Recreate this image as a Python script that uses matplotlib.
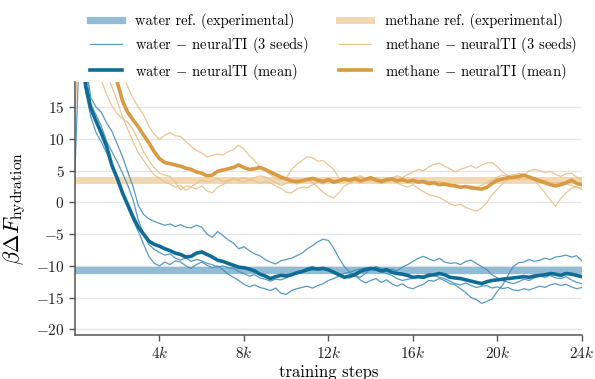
import numpy as np
import matplotlib
matplotlib.use("Agg")
import matplotlib.pyplot as plt
from matplotlib.ticker import FuncFormatter

plt.rcParams["font.family"] = ["cmr10", "DejaVu Serif"]
plt.rcParams["mathtext.fontset"] = "cm"
plt.rcParams["axes.formatter.use_mathtext"] = True
plt.rcParams["axes.unicode_minus"] = True

# training step grid (every 250 steps)
steps = np.arange(0, 24001, 250)

water_ref = -10.65
methane_ref = 3.47

water_seed1 = [45, 32, 22, 16.5, 15.0, 14.2, 12.5, 11.2, 9.2, 7.2, 4.8, 2.5, -0.5, -1.9, -2.6, -3.0,
               -3.3, -3.6, -3.4, -3.8, -3.5, -3.9, -4.0, -3.6, -3.9, -5.0, -5.5, -4.6, -5.2, -5.9, -6.4, -7.3,
               -7.0, -7.6, -8.1, -8.4, -9.0, -9.4, -9.7, -9.2, -9.0, -8.8, -8.4, -8.0, -7.3, -6.8, -6.2, -5.8,
               -6.0, -7.2, -8.8, -10.1, -11.0, -11.4, -12.2, -12.7, -12.3, -12.0, -12.6, -12.2, -12.8, -13.2, -12.8, -13.4,
               -13.6, -13.2, -12.9, -12.3, -12.4, -12.0, -12.3, -12.8, -13.0, -13.6, -14.2, -15.0, -15.3, -15.9, -15.6, -15.2,
               -14.0, -13.0, -11.5, -10.1, -9.5, -9.4, -9.0, -9.3, -9.1, -8.8, -9.0, -8.6, -8.5, -8.3, -8.6, -8.4,
               -9.2]
water_seed2 = [5, 28, 21, 15.5, 13.8, 12.0, 9.6, 8.0, 6.4, 4.6, 2.7, 0.4, -2.8, -5.0, -6.6, -7.4,
               -7.9, -8.3, -8.1, -8.8, -9.1, -8.7, -9.3, -9.0, -9.2, -9.6, -9.8, -10.2, -10.0, -10.3, -10.4, -10.9,
               -11.2, -11.6, -11.4, -11.9, -12.1, -12.4, -12.1, -12.2, -11.9, -11.5, -11.2, -10.8, -10.3, -10.1, -10.5, -10.4,
               -10.7, -11.1, -11.5, -11.7, -11.9, -11.6, -11.8, -11.2, -10.5, -10.1, -10.4, -10.7, -10.5, -10.8, -10.2, -9.8,
               -9.3, -8.8, -8.5, -8.9, -9.2, -8.8, -9.4, -9.6, -9.5, -9.8, -9.3, -9.1, -9.6, -10.1, -10.6, -11.4,
               -11.9, -12.3, -12.6, -12.8, -12.5, -12.1, -12.3, -11.9, -11.6, -11.8, -11.5, -11.9, -12.0, -11.7, -12.2, -12.6,
               -12.8]
water_seed3 = [40, 24, 17.5, 13.5, 11.0, 9.5, 7.8, 5.8, 3.6, 1.6, -0.8, -2.8, -4.6, -6.6, -8.5, -9.6,
               -10.0, -9.4, -9.8, -9.2, -9.4, -10.0, -10.4, -9.8, -9.4, -9.9, -10.3, -10.0, -10.6, -11.3, -11.8, -12.3,
               -12.9, -13.3, -13.0, -13.4, -13.6, -13.9, -13.5, -14.3, -14.5, -13.9, -13.6, -13.4, -13.2, -13.5, -13.1, -12.8,
               -12.3, -12.0, -11.6, -11.2, -11.0, -10.7, -10.5, -10.3, -10.6, -10.4, -10.9, -11.2, -11.5, -12.0, -12.3, -12.1,
               -12.0, -11.8, -11.6, -11.2, -11.5, -11.8, -12.0, -12.4, -12.8, -13.0, -12.7, -13.1, -13.4, -13.2, -13.1, -13.5,
               -13.3, -13.6, -13.4, -13.8, -13.9, -13.6, -13.8, -13.5, -13.2, -13.4, -13.0, -12.8, -13.1, -12.9, -13.3, -13.6,
               -13.4]
water_mean = [30, 26, 18.5, 14.8, 12.8, 10.9, 8.8, 5.8, 3.8, 1.5, -0.4, -2.3, -3.9, -5.0, -6.1, -6.6,
              -6.9, -7.3, -7.6, -8.0, -8.2, -8.6, -8.5, -8.0, -7.8, -8.2, -8.6, -9.1, -9.3, -9.6, -9.9, -10.2,
              -10.3, -10.5, -10.8, -11.3, -11.6, -12.0, -11.7, -11.5, -11.6, -11.4, -11.1, -10.9, -10.6, -10.4, -10.5, -10.4,
              -10.6, -11.0, -11.4, -11.8, -11.6, -11.4, -10.9, -10.6, -10.4, -10.5, -10.8, -10.6, -11.0, -11.2, -11.3, -11.5,
              -11.8, -11.7, -11.8, -11.5, -11.4, -11.2, -11.4, -11.8, -11.9, -12.0, -12.2, -12.4, -12.6, -12.8, -12.5, -12.3,
              -12.2, -12.1, -12.0, -11.9, -11.8, -11.7, -11.8, -11.6, -11.5, -11.4, -11.2, -11.3, -11.5, -11.2, -11.3, -11.5,
              -11.7]

methane_seed1 = [60, 52, 46, 41, 37, 33, 29, 26, 23, 20.5, 18.2, 16.4, 15.0, 13.8, 12.0, 10.8,
                 9.9, 10.6, 11.0, 10.5, 10.4, 9.6, 8.8, 8.2, 7.8, 7.2, 7.4, 7.6, 7.5, 8.0, 8.3, 9.0,
                 8.4, 7.4, 6.6, 5.6, 5.0, 4.4, 3.9, 3.6, 3.8, 5.2, 6.0, 6.6, 7.2, 7.0, 6.5, 6.6,
                 5.9, 5.2, 3.8, 3.3, 3.6, 3.9, 4.2, 3.8, 3.4, 3.9, 3.6, 3.2, 3.5, 3.1, 2.7, 2.4,
                 2.8, 2.2, 1.7, 1.2, 1.0, 0.8, 0.3, -0.2, -0.5, -0.3, -0.8, -1.1, -1.4, -0.9, 0.0, 1.2,
                 2.1, 3.0, 3.6, 4.3, 4.6, 4.4, 4.1, 3.5, 2.6, 1.5, 0.4, -0.6, 0.6, 1.5, 2.2, 2.5,
                 2.0]
methane_seed2 = [12.6, 35, 29, 25, 21, 19.2, 17.0, 15.2, 14.0, 13.2, 12.6, 11.5, 9.8, 8.0, 6.6, 5.5,
                 4.6, 4.3, 4.1, 3.2, 2.0, 2.6, 2.5, 3.0, 3.6, 3.2, 3.4, 3.8, 3.3, 3.5, 3.8, 3.4,
                 3.2, 3.6, 3.9, 4.2, 4.0, 3.6, 3.1, 2.7, 3.0, 3.3, 2.9, 3.2, 3.6, 3.1, 2.4, 1.6,
                 1.0, 0.7, 1.5, 2.6, 3.0, 3.4, 3.1, 3.5, 3.9, 3.4, 3.0, 3.3, 3.8, 4.2, 3.9, 4.4,
                 4.8, 5.2, 5.0, 5.6, 6.0, 6.2, 5.7, 5.3, 4.8, 5.2, 5.5, 5.8, 5.4, 5.9, 6.2, 6.3,
                 5.6, 4.8, 4.2, 3.9, 3.6, 4.2, 5.0, 5.2, 5.0, 4.7, 4.9, 4.4, 4.1, 4.5, 4.6, 4.0,
                 3.6]
methane_seed3 = [50, 42, 35, 30, 26, 23, 20.5, 18.2, 16.0, 13.5, 11.5, 9.6, 7.8, 6.6, 5.4, 4.3,
                 3.8, 3.2, 2.9, 2.4, 2.7, 1.9, 2.4, 2.1, 2.6, 1.8, 1.5, 2.4, 2.8, 3.3, 3.7, 3.6,
                 3.9, 3.6, 3.4, 3.0, 3.3, 3.1, 2.6, 2.2, 1.6, 1.5, 2.1, 2.4, 2.3, 2.8, 3.2, 2.9,
                 3.4, 3.0, 3.5, 3.9, 3.3, 3.6, 4.0, 3.7, 3.3, 3.8, 3.4, 3.6, 3.9, 3.5, 3.8, 3.3,
                 3.0, 3.4, 3.1, 2.7, 3.0, 3.3, 3.0, 2.6, 2.8, 2.5, 2.3, 2.6, 2.4, 2.7, 3.1, 3.5,
                 4.0, 4.3, 4.1, 4.4, 4.0, 3.6, 3.8, 3.5, 3.6, 3.4, 3.2, 3.0, 3.2, 2.9, 2.7, 2.4,
                 2.2]
methane_mean = [45, 40, 36, 32, 28, 25, 22.5, 20.5, 19.0, 16.0, 14.2, 13.0, 11.9, 10.6, 9.4, 8.0,
                6.9, 6.3, 6.1, 5.9, 5.7, 5.4, 5.2, 4.8, 4.6, 4.2, 4.3, 4.9, 5.1, 5.3, 5.5, 5.9,
                5.5, 5.2, 5.3, 5.5, 5.2, 4.8, 4.4, 4.0, 3.7, 3.4, 3.3, 3.4, 3.6, 3.8, 3.5, 3.3,
                3.6, 3.2, 3.4, 3.7, 3.5, 3.8, 3.4, 3.6, 3.9, 3.5, 3.3, 3.6, 3.7, 3.4, 3.6, 3.3,
                3.5, 3.2, 3.3, 3.0, 3.1, 2.8, 2.9, 2.7, 2.6, 2.4, 2.5, 2.3, 2.2, 2.1, 2.4, 3.0,
                3.5, 3.7, 3.9, 3.9, 4.1, 4.3, 4.0, 3.7, 3.4, 3.1, 2.8, 2.6, 2.8, 3.1, 3.5, 3.0,
                2.8]

W_DARK, W_SEED, W_REF = "#106c96", "#4590ba", "#7fb1cd"
M_DARK, M_SEED, M_REF = "#d89a42", "#e8c08a", "#efd2a6"

fig = plt.figure(figsize=(5.95, 3.79), dpi=100)
ax = fig.add_axes([0.126, 0.116, 0.852, 0.668])

h_wref = ax.axhline(water_ref, color=W_REF, lw=5.2, alpha=0.85, zorder=1)
h_mref = ax.axhline(methane_ref, color=M_REF, lw=5.0, alpha=0.85, zorder=1)

for s in (water_seed1, water_seed2, water_seed3):
    h_wseed, = ax.plot(steps, s, color=W_SEED, lw=0.9, alpha=0.9, zorder=2)
for s in (methane_seed1, methane_seed2, methane_seed3):
    h_mseed, = ax.plot(steps, s, color=M_SEED, lw=0.9, alpha=0.9, zorder=2)
h_wmean, = ax.plot(steps, water_mean, color=W_DARK, lw=2.6, zorder=3)
h_mmean, = ax.plot(steps, methane_mean, color=M_DARK, lw=2.6, zorder=3)

ax.set_xlim(0, 24000)
ax.set_ylim(-20.9, 19.0)
ax.set_yticks(np.arange(-20, 16, 5))
ax.set_xticks(np.arange(4000, 24001, 4000))
ax.xaxis.set_major_formatter(FuncFormatter(lambda v, p: f"${int(v / 1000)}k$"))
ax.grid(axis="y", color="#e6e6e6", lw=1.0, zorder=0)
ax.set_axisbelow(True)
for side in ("top", "right"):
    ax.spines[side].set_visible(False)
for side in ("left", "bottom"):
    ax.spines[side].set_color("#555555")
    ax.spines[side].set_linewidth(1.1)
ax.tick_params(colors="#555555", labelcolor="#222222", labelsize=11, length=4, width=1)

ax.set_ylabel(r"$\beta\Delta F_{\mathrm{hydration}}$", fontsize=16, labelpad=6)
ax.set_xlabel("training steps", fontsize=12, labelpad=2)

handles = [h_wref, h_wseed, h_wmean, h_mref, h_mseed, h_mmean]
labels = ["water ref. (experimental)",
          "water $-$ neuralTI (3 seeds)",
          "water $-$ neuralTI (mean)",
          "methane ref. (experimental)",
          "methane $-$ neuralTI (3 seeds)",
          "methane $-$ neuralTI (mean)"]
fig.legend(handles, labels, ncol=2, loc="upper left", bbox_to_anchor=(0.151, 0.965),
           frameon=False, fontsize=10.5, borderpad=0, borderaxespad=0,
           handlelength=2.2, handletextpad=0.9, columnspacing=2.1, labelspacing=0.42)

fig.savefig("out.png", dpi=100)
